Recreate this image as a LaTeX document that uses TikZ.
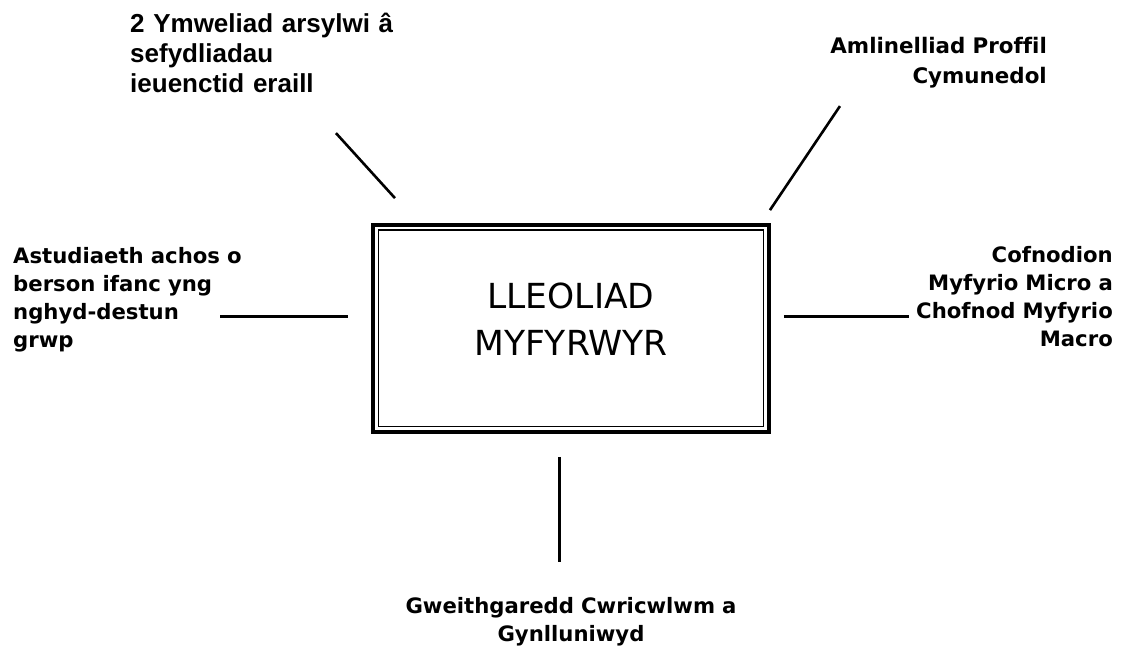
\documentclass[tikz,border=0pt]{standalone}
\usepackage{fontspec}
\newfontfamily\arialfont{Liberation Sans}
\newfontfamily\tahomafont[Ligatures=CommonOff]{DejaVu Sans}

\begin{document}
\begin{tikzpicture}[x=1pt, y=1pt,
    box/.style={draw, line width=4pt, minimum width=396.5pt, minimum height=207pt, inner sep=0pt},
    inner/.style={draw, line width=1.3pt, minimum width=385pt, minimum height=196.7pt, inner sep=0pt},
    headline/.style={inner sep=0pt, text width=300pt, align=center, font={\tahomafont\fontsize{34.5}{47}\selectfont}},
    lbl/.style={inner sep=0pt, font={\tahomafont\bfseries\fontsize{21.2}{28.3}\selectfont}},
    link/.style={line width=2.6pt}
  ]
  \useasboundingbox (0,0) rectangle (1121,-647);

  \node[box] (place) at (571.2,-328.3) {};
  \node[inner] (placein) at (place.center) {};
  \node[headline, anchor=base] (placetitle) at (571,-308) {LLEOLIAD\\MYFYRWYR};

  \node[inner sep=0pt, text width=300pt, align=left, anchor=base west,
        font={\arialfont\bfseries\fontsize{26}{30}\selectfont}] (visit) at (130,-33)
        {2 Ymweliad arsylwi â\\sefydliadau\\ieuenctid eraill};
  \node[lbl, text width=260pt, align=right, anchor=base east,
        font={\tahomafont\bfseries\fontsize{21.4}{30}\selectfont}] (profile) at (1047,-54)
        {Amlinelliad Proffil\\Cymunedol};
  \node[lbl, text width=260pt, align=left, anchor=base west] (case) at (13,-263)
        {Astudiaeth achos o\\berson ifanc yng\\nghyd-destun\\grwp};
  \node[lbl, text width=220pt, align=right, anchor=base east] (records) at (1113,-262)
        {Cofnodion\\Myfyrio Micro a\\Chofnod Myfyrio\\Macro};
  \node[lbl, text width=360pt, align=center, anchor=base] (activity) at (571,-613)
        {Gweithgaredd Cwricwlwm a\\Gynlluniwyd};

  \draw[link] ([shift={(24,24.7)}]place.north west) -- ++(-59,65);
  \draw[link] ([shift={(-1.5,12.7)}]place.north east) -- ++(70,104);
  \draw[link, line width=3.2pt] ([shift={(-23,12)}]place.west) -- ++(-128,0);
  \draw[link, line width=3.2pt] ([shift={(12.5,12)}]place.east) -- ++(125,0);
  \draw[link] ([shift={(-12,-23)}]place.south) -- ++(0,-105);
\end{tikzpicture}
\end{document}
